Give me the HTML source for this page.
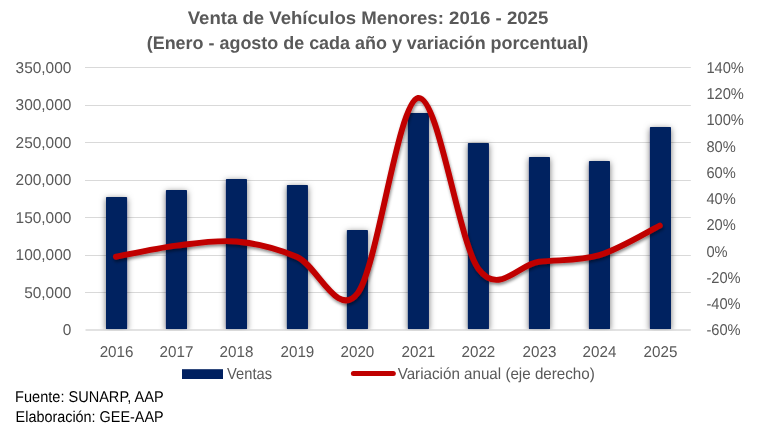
<!DOCTYPE html>
<html><head><meta charset="utf-8"><style>
html,body{margin:0;padding:0;background:#fff;}
body{width:768px;height:426px;overflow:hidden;}
svg{display:block;will-change:transform;}
text{font-family:"Liberation Sans",Arial,sans-serif;text-rendering:geometricPrecision;}
</style></head><body>
<svg width="768" height="426" viewBox="0 0 768 426">
<defs>
<clipPath id="pc"><rect x="0" y="0" width="768" height="330.5"/></clipPath>
<filter id="bs" x="-50%" y="-20%" width="200%" height="140%"><feDropShadow dx="0" dy="1.5" stdDeviation="3.4" flood-color="#000" flood-opacity="0.55"/></filter>
<filter id="ls" x="-10%" y="-10%" width="120%" height="130%"><feDropShadow dx="0.8" dy="2.2" stdDeviation="1.4" flood-color="#000" flood-opacity="0.45"/></filter>
</defs>
<rect width="768" height="426" fill="#fff"/>
<g fill="#595959" font-size="18" font-weight="bold" text-anchor="middle">
<text x="368.0" y="23.6" textLength="360.6" lengthAdjust="spacingAndGlyphs">Venta de Vehículos Menores: 2016 - 2025</text>
<text x="367.5" y="48.5" textLength="441.6" lengthAdjust="spacingAndGlyphs">(Enero - agosto de cada año y variación porcentual)</text>
</g>
<g stroke="#d9d9d9" stroke-width="1"><line x1="85.0" y1="67.50" x2="690.8" y2="67.50"/><line x1="85.0" y1="105.50" x2="690.8" y2="105.50"/><line x1="85.0" y1="142.50" x2="690.8" y2="142.50"/><line x1="85.0" y1="180.50" x2="690.8" y2="180.50"/><line x1="85.0" y1="217.50" x2="690.8" y2="217.50"/><line x1="85.0" y1="255.50" x2="690.8" y2="255.50"/><line x1="85.0" y1="292.50" x2="690.8" y2="292.50"/></g>
<g clip-path="url(#pc)"><g fill="#002060" filter="url(#bs)"><rect rx="0.8" x="106.00" y="197.00" width="21.10" height="132.30"/><rect rx="0.8" x="165.90" y="190.00" width="21.10" height="139.30"/><rect rx="0.8" x="225.90" y="179.00" width="21.10" height="150.30"/><rect rx="0.8" x="286.85" y="185.00" width="21.10" height="144.30"/><rect rx="0.8" x="346.85" y="230.00" width="21.10" height="99.30"/><rect rx="0.8" x="407.85" y="113.00" width="21.10" height="216.30"/><rect rx="0.8" x="467.85" y="143.00" width="21.10" height="186.30"/><rect rx="0.8" x="528.90" y="157.00" width="21.10" height="172.30"/><rect rx="0.8" x="588.90" y="161.00" width="21.10" height="168.30"/><rect rx="0.8" x="649.90" y="127.00" width="21.10" height="202.30"/></g></g>
<line x1="85.5" y1="330" x2="690.8" y2="330" stroke="#d9d9d9" stroke-width="1.5"/>
<path d="M115.90,256.76 C125.97,254.90 156.19,248.14 176.33,245.61 C196.47,243.07 216.62,239.63 236.76,241.54 C256.90,243.44 277.05,248.41 297.19,257.02 C317.33,265.64 337.48,319.76 357.62,293.25 C377.76,266.74 397.91,102.00 418.05,97.95 C438.19,93.90 458.34,241.67 478.48,268.97 C498.62,296.27 518.77,264.05 538.91,261.75 C559.05,259.45 579.20,261.20 599.34,255.19 C619.48,249.17 649.70,230.58 659.77,225.66" fill="none" stroke="#c00000" stroke-width="5.9" stroke-linecap="round" stroke-linejoin="round" filter="url(#ls)"/>
<g fill="#595959" font-size="15.6"><text x="71.4" y="72.80" text-anchor="end" textLength="55.81" lengthAdjust="spacingAndGlyphs">350,000</text><text x="71.4" y="110.30" text-anchor="end" textLength="55.81" lengthAdjust="spacingAndGlyphs">300,000</text><text x="71.4" y="147.80" text-anchor="end" textLength="55.81" lengthAdjust="spacingAndGlyphs">250,000</text><text x="71.4" y="185.30" text-anchor="end" textLength="55.81" lengthAdjust="spacingAndGlyphs">200,000</text><text x="71.4" y="222.80" text-anchor="end" textLength="55.81" lengthAdjust="spacingAndGlyphs">150,000</text><text x="71.4" y="260.30" text-anchor="end" textLength="55.81" lengthAdjust="spacingAndGlyphs">100,000</text><text x="71.4" y="297.80" text-anchor="end" textLength="47.23" lengthAdjust="spacingAndGlyphs">50,000</text><text x="71.4" y="335.30" text-anchor="end" textLength="8.59" lengthAdjust="spacingAndGlyphs">0</text><text x="706.4" y="72.80" textLength="37.50" lengthAdjust="spacingAndGlyphs">140%</text><text x="706.4" y="99.05" textLength="37.50" lengthAdjust="spacingAndGlyphs">120%</text><text x="706.4" y="125.30" textLength="37.50" lengthAdjust="spacingAndGlyphs">100%</text><text x="706.4" y="151.55" textLength="29.34" lengthAdjust="spacingAndGlyphs">80%</text><text x="706.4" y="177.80" textLength="29.34" lengthAdjust="spacingAndGlyphs">60%</text><text x="706.4" y="204.05" textLength="29.34" lengthAdjust="spacingAndGlyphs">40%</text><text x="706.4" y="230.30" textLength="29.34" lengthAdjust="spacingAndGlyphs">20%</text><text x="706.4" y="256.55" textLength="21.19" lengthAdjust="spacingAndGlyphs">0%</text><text x="706.4" y="282.80" textLength="34.23" lengthAdjust="spacingAndGlyphs">-20%</text><text x="706.4" y="309.05" textLength="34.23" lengthAdjust="spacingAndGlyphs">-40%</text><text x="706.4" y="335.30" textLength="34.23" lengthAdjust="spacingAndGlyphs">-60%</text><text x="116.55" y="356.6" text-anchor="middle" textLength="33.83" lengthAdjust="spacingAndGlyphs">2016</text><text x="176.45" y="356.6" text-anchor="middle" textLength="33.83" lengthAdjust="spacingAndGlyphs">2017</text><text x="236.45" y="356.6" text-anchor="middle" textLength="33.83" lengthAdjust="spacingAndGlyphs">2018</text><text x="297.40" y="356.6" text-anchor="middle" textLength="33.83" lengthAdjust="spacingAndGlyphs">2019</text><text x="357.40" y="356.6" text-anchor="middle" textLength="33.83" lengthAdjust="spacingAndGlyphs">2020</text><text x="418.40" y="356.6" text-anchor="middle" textLength="33.83" lengthAdjust="spacingAndGlyphs">2021</text><text x="478.40" y="356.6" text-anchor="middle" textLength="33.83" lengthAdjust="spacingAndGlyphs">2022</text><text x="539.45" y="356.6" text-anchor="middle" textLength="33.83" lengthAdjust="spacingAndGlyphs">2023</text><text x="599.45" y="356.6" text-anchor="middle" textLength="33.83" lengthAdjust="spacingAndGlyphs">2024</text><text x="660.45" y="356.6" text-anchor="middle" textLength="33.83" lengthAdjust="spacingAndGlyphs">2025</text></g>
<rect x="182" y="369.2" width="41" height="9.8" fill="#002060"/>
<line x1="353.4" y1="373.4" x2="393.3" y2="373.4" stroke="#c00000" stroke-width="5" stroke-linecap="round"/>
<g fill="#595959" font-size="16">
<text x="227.1" y="378.9" textLength="44.9" lengthAdjust="spacingAndGlyphs">Ventas</text>
<text x="397.7" y="378.9" textLength="197.1" lengthAdjust="spacingAndGlyphs">Variación anual (eje derecho)</text>
</g>
<g fill="#000" font-size="15.6">
<text x="15.1" y="401.8" textLength="148.5" lengthAdjust="spacingAndGlyphs">Fuente: SUNARP, AAP</text>
<text x="15.6" y="421.8" textLength="148.0" lengthAdjust="spacingAndGlyphs">Elaboración: GEE-AAP</text>
</g>
</svg>
</body></html>
